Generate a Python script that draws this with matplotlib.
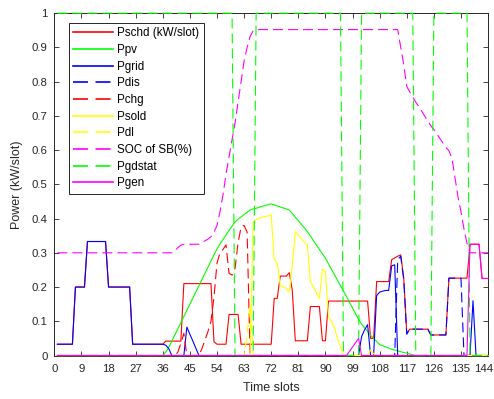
import numpy as np
import matplotlib
matplotlib.use('Agg')
import matplotlib.pyplot as plt
import matplotlib.transforms as mtransforms

plt.rcParams['font.family'] = ['Liberation Sans', 'DejaVu Sans']

#--------------------------Data------------------------------------------------------

slots = np.arange(1, 145)

Pschd = [0.033, 0.033, 0.033, 0.033, 0.033, 0.033, 0.2, 0.2, 0.2, 0.2, 0.333, 0.333,
         0.333, 0.333, 0.333, 0.333, 0.333, 0.2, 0.2, 0.2, 0.2, 0.2, 0.2, 0.2,
         0.2, 0.033, 0.033, 0.033, 0.033, 0.033, 0.033, 0.033, 0.033, 0.033, 0.033, 0.033,
         0.042, 0.042, 0.042, 0.042, 0.042, 0.042, 0.21, 0.21, 0.21, 0.21, 0.21, 0.21,
         0.21, 0.21, 0.21, 0.21, 0.04, 0.033, 0.033, 0.033, 0.033, 0.12, 0.12, 0.12,
         0.12, 0.033, 0.033, 0.033, 0.033, 0.033, 0.033, 0.033, 0.033, 0.033, 0.033, 0.033,
         0.167, 0.167, 0.232, 0.232, 0.232, 0.242, 0.19, 0.043, 0.043, 0.043, 0.043, 0.043,
         0.143, 0.143, 0.143, 0.143, 0.043, 0.043, 0.159, 0.159, 0.159, 0.159, 0.159, 0.159,
         0.159, 0.159, 0.159, 0.159, 0.159, 0.159, 0.159, 0.159, 0.05, 0.05, 0.216, 0.216,
         0.216, 0.216, 0.216, 0.28, 0.285, 0.29, 0.294, 0.226, 0.065, 0.077, 0.077, 0.077,
         0.077, 0.077, 0.077, 0.077, 0.06, 0.06, 0.06, 0.06, 0.06, 0.06, 0.226, 0.226,
         0.226, 0.226, 0.226, 0.226, 0.226, 0.325, 0.325, 0.325, 0.325, 0.225, 0.225, 0.225]

Ppv = [0, 0, 0, 0, 0, 0, 0, 0, 0, 0, 0, 0,
       0, 0, 0, 0, 0, 0, 0, 0, 0, 0, 0, 0,
       0, 0, 0, 0, 0, 0, 0, 0, 0, 0, 0, 0,
       0.01, 0.024, 0.042, 0.06, 0.078, 0.096, 0.114, 0.132, 0.15, 0.168, 0.186, 0.204,
       0.222, 0.24, 0.258, 0.276, 0.294, 0.311, 0.326, 0.339, 0.352, 0.365, 0.378, 0.39,
       0.398, 0.405, 0.412, 0.418, 0.425, 0.428, 0.43, 0.433, 0.436, 0.438, 0.441, 0.443,
       0.44, 0.437, 0.434, 0.431, 0.428, 0.425, 0.415, 0.404, 0.394, 0.383, 0.373, 0.362,
       0.349, 0.336, 0.323, 0.31, 0.297, 0.284, 0.268, 0.252, 0.236, 0.22, 0.204, 0.188,
       0.172, 0.155, 0.139, 0.122, 0.106, 0.092, 0.081, 0.07, 0.059, 0.05, 0.041, 0.032,
       0.029, 0.025, 0.022, 0.018, 0.016, 0.014, 0.011, 0.009, 0.007, 0.004, 0.002, 0,
       0, 0, 0, 0, 0, 0, 0, 0, 0, 0, 0, 0,
       0, 0, 0, 0, 0, 0, 0, 0, 0, 0, 0, 0]

Pgrid = [0.033, 0.033, 0.033, 0.033, 0.033, 0.033, 0.2, 0.2, 0.2, 0.2, 0.333, 0.333,
         0.333, 0.333, 0.333, 0.333, 0.333, 0.2, 0.2, 0.2, 0.2, 0.2, 0.2, 0.2,
         0.2, 0.033, 0.033, 0.033, 0.033, 0.033, 0.033, 0.033, 0.033, 0.033, 0.033, 0.033,
         0.03, 0.02, 0, 0, 0, 0, 0, 0.083, 0.062, 0.042, 0.021, 0,
         0, 0, 0, 0, 0, 0, 0, 0, 0, 0, 0, 0,
         0, 0, 0, 0, 0, 0, 0, 0, 0, 0, 0, 0,
         0, 0, 0, 0, 0, 0, 0, 0, 0, 0, 0, 0,
         0, 0, 0, 0, 0, 0, 0, 0, 0, 0, 0, 0,
         0, 0, 0, 0, 0, 0.055, 0.075, 0.09, 0, 0, 0.175, 0.185,
         0.188, 0.19, 0.19, 0.262, 0.265, 0, 0, 0, 0, 0, 0, 0,
         0, 0, 0, 0, 0, 0, 0, 0, 0, 0, 0, 0,
         0, 0, 0, 0, 0, 0, 0.16, 0, 0, 0, 0, 0, 0, 0][:144]

Pdis = [0] * 113 + [0.28, 0.29, 0.222, 0.062, 0.077, 0.077, 0.077, 0.077, 0.077, 0.077, 0.077,
                    0.06, 0.06, 0.06, 0.06, 0.06, 0.06, 0.226, 0.226, 0.226, 0.226, 0.226,
                    0, 0, 0, 0, 0, 0, 0, 0, 0]

Pchg = [0] * 40 + [0.01, 0.035, 0.065, 0, 0, 0, 0, 0, 0.02, 0.045, 0.07, 0.1,
                   0.17, 0.27, 0.3, 0.31, 0.323, 0.24, 0.235, 0.255, 0.33, 0.375, 0.38, 0.36,
                   0] + [0] * 79

Psold = [0] * 65 + [0.39, 0.396, 0.401, 0.404, 0.406, 0.408, 0.411, 0.28, 0.27, 0.205, 0.2,
                    0.196, 0.185, 0.26, 0.362, 0.352, 0.342, 0.332, 0.323, 0.215, 0.2, 0.183,
                    0.167, 0.252, 0.245, 0.115, 0.1, 0.08, 0.05, 0.025, 0,
                    0, 0, 0, 0, 0, 0, 0, 0, 0.016, 0.005] + [0] * 38

Pdl = [0] * 63 + [0.06, 0.15, 0] + [0] * 78

SOC = [0.3] * 39 + [0.305, 0.315, 0.322, 0.325, 0.325, 0.325, 0.325, 0.325, 0.325, 0.33,
                    0.335, 0.34, 0.347, 0.36, 0.38, 0.42, 0.47, 0.53, 0.58, 0.63, 0.68,
                    0.74, 0.8, 0.86, 0.9, 0.932, 0.948] + [0.952] * 48 + \
      [0.9, 0.85, 0.786, 0.77, 0.755, 0.74, 0.727, 0.713, 0.699, 0.685, 0.671, 0.66,
       0.647, 0.634, 0.621, 0.608, 0.598, 0.577, 0.52, 0.464, 0.42, 0.37, 0.328, 0.3,
       0.3, 0.3, 0.3, 0.3, 0.3, 0.3]

Pgdstat = [1] * 59 + [0] * 7 + [1] * 29 + [0] * 6 + [1] * 18 + [0] * 6 + [1] * 12 + [0] * 7

Pgen = [0] * 97 + [0.012, 0.025, 0.037, 0.05, 0] + [0] * 35 + \
       [0.325, 0.325, 0.325, 0.325, 0.225, 0.225, 0.225]

labels = ['Pschd (kW/slot)', 'Ppv', 'Pgrid', 'Pdis', 'Pchg', 'Psold', 'Pdl',
          'SOC of SB(%)', 'Pgdstat', 'Pgen']
xticks = np.arange(0, 145, 9)
yticks = np.round(np.arange(0, 1.01, 0.1), 1)
yticklabels = ['0', '0.1', '0.2', '0.3', '0.4', '0.5', '0.6', '0.7', '0.8', '0.9', '1']

#--------------------------Plot------------------------------------------------------

series = [Pschd, Ppv, Pgrid, Pdis, Pchg, Psold, Pdl, SOC, Pgdstat, Pgen]
colors = ['#ff0000', '#00ff00', '#0000ff', '#0000ff', '#ff0000', '#ffff00', '#ffff00',
          '#ff00ff', '#00ff00', '#ff00ff']
dashed = [False, False, False, True, True, False, True, True, True, False]

fig = plt.figure(figsize=(4.94, 3.99), dpi=100)
ax = fig.add_axes([0.110, 0.109, 0.878, 0.858])

for y, c, d, lab in zip(series, colors, dashed, labels):
    ln, = ax.plot(slots, y, color=c, lw=0.8, label=lab, clip_on=False, zorder=3)
    if d:
        ln.set_dashes((9, 4.5))

ax.set_xlim(0, 144)
ax.set_ylim(0, 1)
ax.set_xticks(xticks)
ax.set_yticks(yticks)
ax.set_yticklabels(yticklabels)
ax.tick_params(direction='in', top=True, right=True, length=3.6, width=0.6,
               labelsize=8.2, colors='#262626')
ax.tick_params(axis='x', pad=6)
ax.tick_params(axis='y', pad=5)
for s in ax.spines.values():
    s.set_color('#262626')
    s.set_linewidth(0.7)

# last x label sits tight against the figure edge, nudge it left a bit
last = ax.get_xticklabels()[-1]
last.set_transform(last.get_transform() + mtransforms.ScaledTranslation(-4 / 100, 0, fig.dpi_scale_trans))

ax.set_xlabel('Time slots', fontsize=9, color='#262626', labelpad=6)
ax.set_ylabel('Power (kW/slot)', fontsize=9, color='#262626', labelpad=6)

leg = ax.legend(loc='upper left', bbox_to_anchor=(0.033, 0.972), fontsize=8.4,
                handlelength=3.4, handletextpad=0.35, labelspacing=0.4,
                borderpad=0.4, fancybox=False, framealpha=1, borderaxespad=0)
leg.get_frame().set_edgecolor('#262626')
leg.get_frame().set_linewidth(0.7)
for h in leg.get_lines():
    h.set_linewidth(1.2)

fig.savefig('out.png', dpi=100)
